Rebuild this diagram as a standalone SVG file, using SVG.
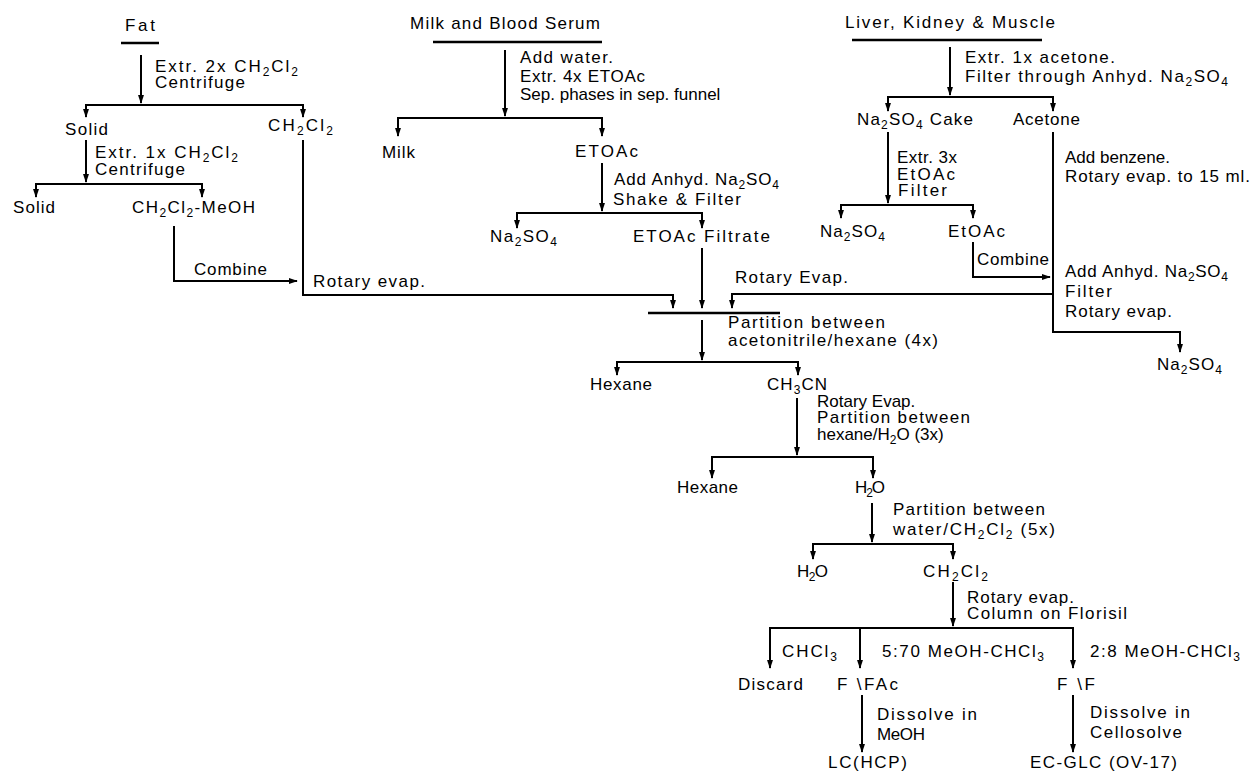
<svg xmlns="http://www.w3.org/2000/svg" width="1260" height="773" viewBox="0 0 1260 773">
<style>
.t{font-family:"Liberation Sans",Arial,sans-serif;font-size:17px;fill:#000}
.s{font-size:12px}
.c{fill:none;stroke:#000;stroke-width:2}
.u{stroke:#000;stroke-width:2.5}
</style>
<defs>
<marker id="ah" viewBox="0 0 10 6" refX="9" refY="3" markerWidth="9" markerHeight="6" markerUnits="userSpaceOnUse" orient="auto-start-reverse" preserveAspectRatio="none"><path d="M0,0 L10,3 L0,6 z" fill="#000"/></marker>
</defs>
<rect width="1260" height="773" fill="#fff"/>

<g id="connectors">
<path class="c" d="M141,55 V103" marker-end="url(#ah)"/>
<path class="c" d="M86,117 V105 H303 V117" marker-start="url(#ah)" marker-end="url(#ah)"/>
<path class="c" d="M86,140 V182" marker-end="url(#ah)"/>
<path class="c" d="M36,197 V184 H202 V197" marker-start="url(#ah)" marker-end="url(#ah)"/>
<path class="c" d="M174,226 V281 H297" marker-end="url(#ah)"/>
<path class="c" d="M303,140 V295 H673 V308" marker-end="url(#ah)"/>
<path class="c" d="M505,50 V116" marker-end="url(#ah)"/>
<path class="c" d="M398,136 V118 H602 V136" marker-start="url(#ah)" marker-end="url(#ah)"/>
<path class="c" d="M602,163 V211" marker-end="url(#ah)"/>
<path class="c" d="M517,228 V213 H702 V228" marker-start="url(#ah)" marker-end="url(#ah)"/>
<path class="c" d="M702,248 V308" marker-end="url(#ah)"/>
<path class="c" d="M950,47 V95" marker-end="url(#ah)"/>
<path class="c" d="M888,111 V97 H1053 V111" marker-start="url(#ah)" marker-end="url(#ah)"/>
<path class="c" d="M888,132 V203" marker-end="url(#ah)"/>
<path class="c" d="M841,218 V205 H973 V218" marker-start="url(#ah)" marker-end="url(#ah)"/>
<path class="c" d="M973,242 V277 H1050" marker-end="url(#ah)"/>
<path class="c" d="M1053,132 V332 H1180 V352" marker-end="url(#ah)"/>
<path class="c" d="M1053,294 H732 V308" marker-end="url(#ah)"/>
<path class="c" d="M648,313 H780" style="stroke-width:2.5"/>
<path class="c" d="M702,320 V360" marker-end="url(#ah)"/>
<path class="c" d="M617,375 V362 H798 V375" marker-start="url(#ah)" marker-end="url(#ah)"/>
<path class="c" d="M797,398 V455" marker-end="url(#ah)"/>
<path class="c" d="M712,478 V457 H873 V478" marker-start="url(#ah)" marker-end="url(#ah)"/>
<path class="c" d="M872,503 V542" marker-end="url(#ah)"/>
<path class="c" d="M813,559 V544 H953 V559" marker-start="url(#ah)" marker-end="url(#ah)"/>
<path class="c" d="M953,582 V626" marker-end="url(#ah)"/>
<path class="c" d="M770,668 V628 H1073 V668" marker-start="url(#ah)" marker-end="url(#ah)"/>
<path class="c" d="M860,628 V668" marker-end="url(#ah)"/>
<path class="c" d="M862,695 V752" marker-end="url(#ah)"/>
<path class="c" d="M1073,695 V752" marker-end="url(#ah)"/>
</g>

<g id="edge-labels">
<text class="t" x="155" y="72" textLength="143" lengthAdjust="spacing">Extr. 2x CH<tspan class="s" dy="4">2</tspan><tspan dy="-4">Cl</tspan><tspan class="s" dy="4">2</tspan></text>
<text class="t" x="155" y="88" textLength="90" lengthAdjust="spacing">Centrifuge</text>
<text class="t" x="95" y="158" textLength="143" lengthAdjust="spacing">Extr. 1x CH<tspan class="s" dy="4">2</tspan><tspan dy="-4">Cl</tspan><tspan class="s" dy="4">2</tspan></text>
<text class="t" x="95" y="175" textLength="90" lengthAdjust="spacing">Centrifuge</text>
<text class="t" x="194" y="275" textLength="73" lengthAdjust="spacing">Combine</text>
<text class="t" x="313" y="287" textLength="112" lengthAdjust="spacing">Rotary evap.</text>
<text class="t" x="520" y="63" textLength="93" lengthAdjust="spacing">Add water.</text>
<text class="t" x="520" y="82" textLength="125" lengthAdjust="spacing">Extr. 4x ETOAc</text>
<text class="t" x="520" y="100">Sep. phases in sep. funnel</text>
<text class="t" x="614" y="185" textLength="165" lengthAdjust="spacing">Add Anhyd. Na<tspan class="s" dy="4">2</tspan><tspan dy="-4">SO</tspan><tspan class="s" dy="4">4</tspan></text>
<text class="t" x="613" y="205" textLength="128" lengthAdjust="spacing">Shake &amp; Filter</text>
<text class="t" x="735" y="283" textLength="113" lengthAdjust="spacing">Rotary Evap.</text>
<text class="t" x="728" y="328" textLength="157" lengthAdjust="spacing">Partition between</text>
<text class="t" x="728" y="346" textLength="210" lengthAdjust="spacing">acetonitrile/hexane (4x)</text>
<text class="t" x="965" y="63" textLength="150" lengthAdjust="spacing">Extr. 1x acetone.</text>
<text class="t" x="965" y="82" textLength="263" lengthAdjust="spacing">Filter through Anhyd. Na<tspan class="s" dy="4">2</tspan><tspan dy="-4">SO</tspan><tspan class="s" dy="4">4</tspan></text>
<text class="t" x="897" y="163" textLength="60" lengthAdjust="spacing">Extr. 3x</text>
<text class="t" x="897" y="180" textLength="58" lengthAdjust="spacing">EtOAc</text>
<text class="t" x="898" y="196" textLength="49" lengthAdjust="spacing">Filter</text>
<text class="t" x="1065" y="163">Add benzene.</text>
<text class="t" x="1065" y="182" textLength="185" lengthAdjust="spacing">Rotary evap. to 15 ml.</text>
<text class="t" x="977" y="265" textLength="72" lengthAdjust="spacing">Combine</text>
<text class="t" x="1065" y="277" textLength="163" lengthAdjust="spacing">Add Anhyd. Na<tspan class="s" dy="4">2</tspan><tspan dy="-4">SO</tspan><tspan class="s" dy="4">4</tspan></text>
<text class="t" x="1065" y="297" textLength="47" lengthAdjust="spacing">Filter</text>
<text class="t" x="1065" y="317" textLength="107" lengthAdjust="spacing">Rotary evap.</text>
<text class="t" x="817" y="407">Rotary Evap.</text>
<text class="t" x="817" y="423" textLength="153" lengthAdjust="spacing">Partition between</text>
<text class="t" x="817" y="440">hexane/H<tspan class="s" dy="4">2</tspan><tspan dy="-4">O (3x)</tspan></text>
<text class="t" x="893" y="515" textLength="152" lengthAdjust="spacing">Partition between</text>
<text class="t" x="893" y="535" textLength="162" lengthAdjust="spacing">water/CH<tspan class="s" dy="4">2</tspan><tspan dy="-4">Cl</tspan><tspan class="s" dy="4">2</tspan><tspan dy="-4"> (5x)</tspan></text>
<text class="t" x="967" y="603" textLength="107" lengthAdjust="spacing">Rotary evap.</text>
<text class="t" x="967" y="619" textLength="160" lengthAdjust="spacing">Column on Florisil</text>
<text class="t" x="782" y="657" textLength="55" lengthAdjust="spacing">CHCl<tspan class="s" dy="4">3</tspan></text>
<text class="t" x="882" y="657" textLength="162" lengthAdjust="spacing">5:70 MeOH-CHCl<tspan class="s" dy="4">3</tspan></text>
<text class="t" x="1090" y="657" textLength="150" lengthAdjust="spacing">2:8 MeOH-CHCl<tspan class="s" dy="4">3</tspan></text>
<text class="t" x="877" y="720" textLength="100" lengthAdjust="spacing">Dissolve in</text>
<text class="t" x="877" y="740" textLength="48" lengthAdjust="spacing">MeOH</text>
<text class="t" x="1090" y="718" textLength="100" lengthAdjust="spacing">Dissolve in</text>
<text class="t" x="1090" y="738" textLength="92" lengthAdjust="spacing">Cellosolve</text>
</g>

<g id="n-fat"><text class="t" x="125" y="31" textLength="30" lengthAdjust="spacing">Fat</text><line class="u" x1="121" y1="43" x2="159" y2="43"/></g>
<g id="n-milk-serum"><text class="t" x="410" y="29" textLength="190" lengthAdjust="spacing">Milk and Blood Serum</text><line class="u" x1="433" y1="42" x2="602" y2="42"/></g>
<g id="n-liver"><text class="t" x="845" y="28" textLength="210" lengthAdjust="spacing">Liver, Kidney &amp; Muscle</text><line class="u" x1="852" y1="40" x2="1042" y2="40"/></g>
<g id="n-solid1"><text class="t" x="65" y="135" textLength="43" lengthAdjust="spacing">Solid</text></g>
<g id="n-ch2cl2-a"><text class="t" x="268" y="131" textLength="65" lengthAdjust="spacing">CH<tspan class="s" dy="4">2</tspan><tspan dy="-4">Cl</tspan><tspan class="s" dy="4">2</tspan></text></g>
<g id="n-solid2"><text class="t" x="13" y="213" textLength="42" lengthAdjust="spacing">Solid</text></g>
<g id="n-ch2cl2-meoh"><text class="t" x="132" y="213" textLength="123" lengthAdjust="spacing">CH<tspan class="s" dy="4">2</tspan><tspan dy="-4">Cl</tspan><tspan class="s" dy="4">2</tspan><tspan dy="-4">-MeOH</tspan></text></g>
<g id="n-milk"><text class="t" x="382" y="158" textLength="33" lengthAdjust="spacing">Milk</text></g>
<g id="n-etoac-a"><text class="t" x="575" y="157" textLength="63" lengthAdjust="spacing">ETOAc</text></g>
<g id="n-na2so4-a"><text class="t" x="490" y="242" textLength="67" lengthAdjust="spacing">Na<tspan class="s" dy="4">2</tspan><tspan dy="-4">SO</tspan><tspan class="s" dy="4">4</tspan></text></g>
<g id="n-etoac-filtrate"><text class="t" x="633" y="242" textLength="137" lengthAdjust="spacing">ETOAc Filtrate</text></g>
<g id="n-cake"><text class="t" x="857" y="125" textLength="116" lengthAdjust="spacing">Na<tspan class="s" dy="4">2</tspan><tspan dy="-4">SO</tspan><tspan class="s" dy="4">4</tspan><tspan dy="-4"> Cake</tspan></text></g>
<g id="n-acetone"><text class="t" x="1013" y="125" textLength="67" lengthAdjust="spacing">Acetone</text></g>
<g id="n-na2so4-b"><text class="t" x="820" y="237" textLength="65" lengthAdjust="spacing">Na<tspan class="s" dy="4">2</tspan><tspan dy="-4">SO</tspan><tspan class="s" dy="4">4</tspan></text></g>
<g id="n-etoac-b"><text class="t" x="948" y="237" textLength="57" lengthAdjust="spacing">EtOAc</text></g>
<g id="n-na2so4-c"><text class="t" x="1157" y="370" textLength="65" lengthAdjust="spacing">Na<tspan class="s" dy="4">2</tspan><tspan dy="-4">SO</tspan><tspan class="s" dy="4">4</tspan></text></g>
<g id="n-hexane-a"><text class="t" x="590" y="390" textLength="62" lengthAdjust="spacing">Hexane</text></g>
<g id="n-ch3cn"><text class="t" x="767" y="390" textLength="60" lengthAdjust="spacing">CH<tspan class="s" dy="4">3</tspan><tspan dy="-4">CN</tspan></text></g>
<g id="n-hexane-b"><text class="t" x="677" y="493" textLength="61" lengthAdjust="spacing">Hexane</text></g>
<g id="n-h2o-a"><text class="t" x="855" y="493" textLength="30" lengthAdjust="spacing">H<tspan class="s" dy="4">2</tspan><tspan dy="-4">O</tspan></text></g>
<g id="n-h2o-b"><text class="t" x="797" y="577" textLength="31" lengthAdjust="spacing">H<tspan class="s" dy="4">2</tspan><tspan dy="-4">O</tspan></text></g>
<g id="n-ch2cl2-b"><text class="t" x="923" y="577" textLength="65" lengthAdjust="spacing">CH<tspan class="s" dy="4">2</tspan><tspan dy="-4">Cl</tspan><tspan class="s" dy="4">2</tspan></text></g>
<g id="n-discard"><text class="t" x="738" y="690" textLength="65" lengthAdjust="spacing">Discard</text></g>
<g id="n-ffac"><text class="t" x="837" y="690" textLength="61" lengthAdjust="spacing">F \FAc</text></g>
<g id="n-ff"><text class="t" x="1057" y="690" textLength="38" lengthAdjust="spacing">F \F</text></g>
<g id="n-lc"><text class="t" x="828" y="768" textLength="79" lengthAdjust="spacing">LC(HCP)</text></g>
<g id="n-ecglc"><text class="t" x="1030" y="768" textLength="147" lengthAdjust="spacing">EC-GLC (OV-17)</text></g>
</svg>
